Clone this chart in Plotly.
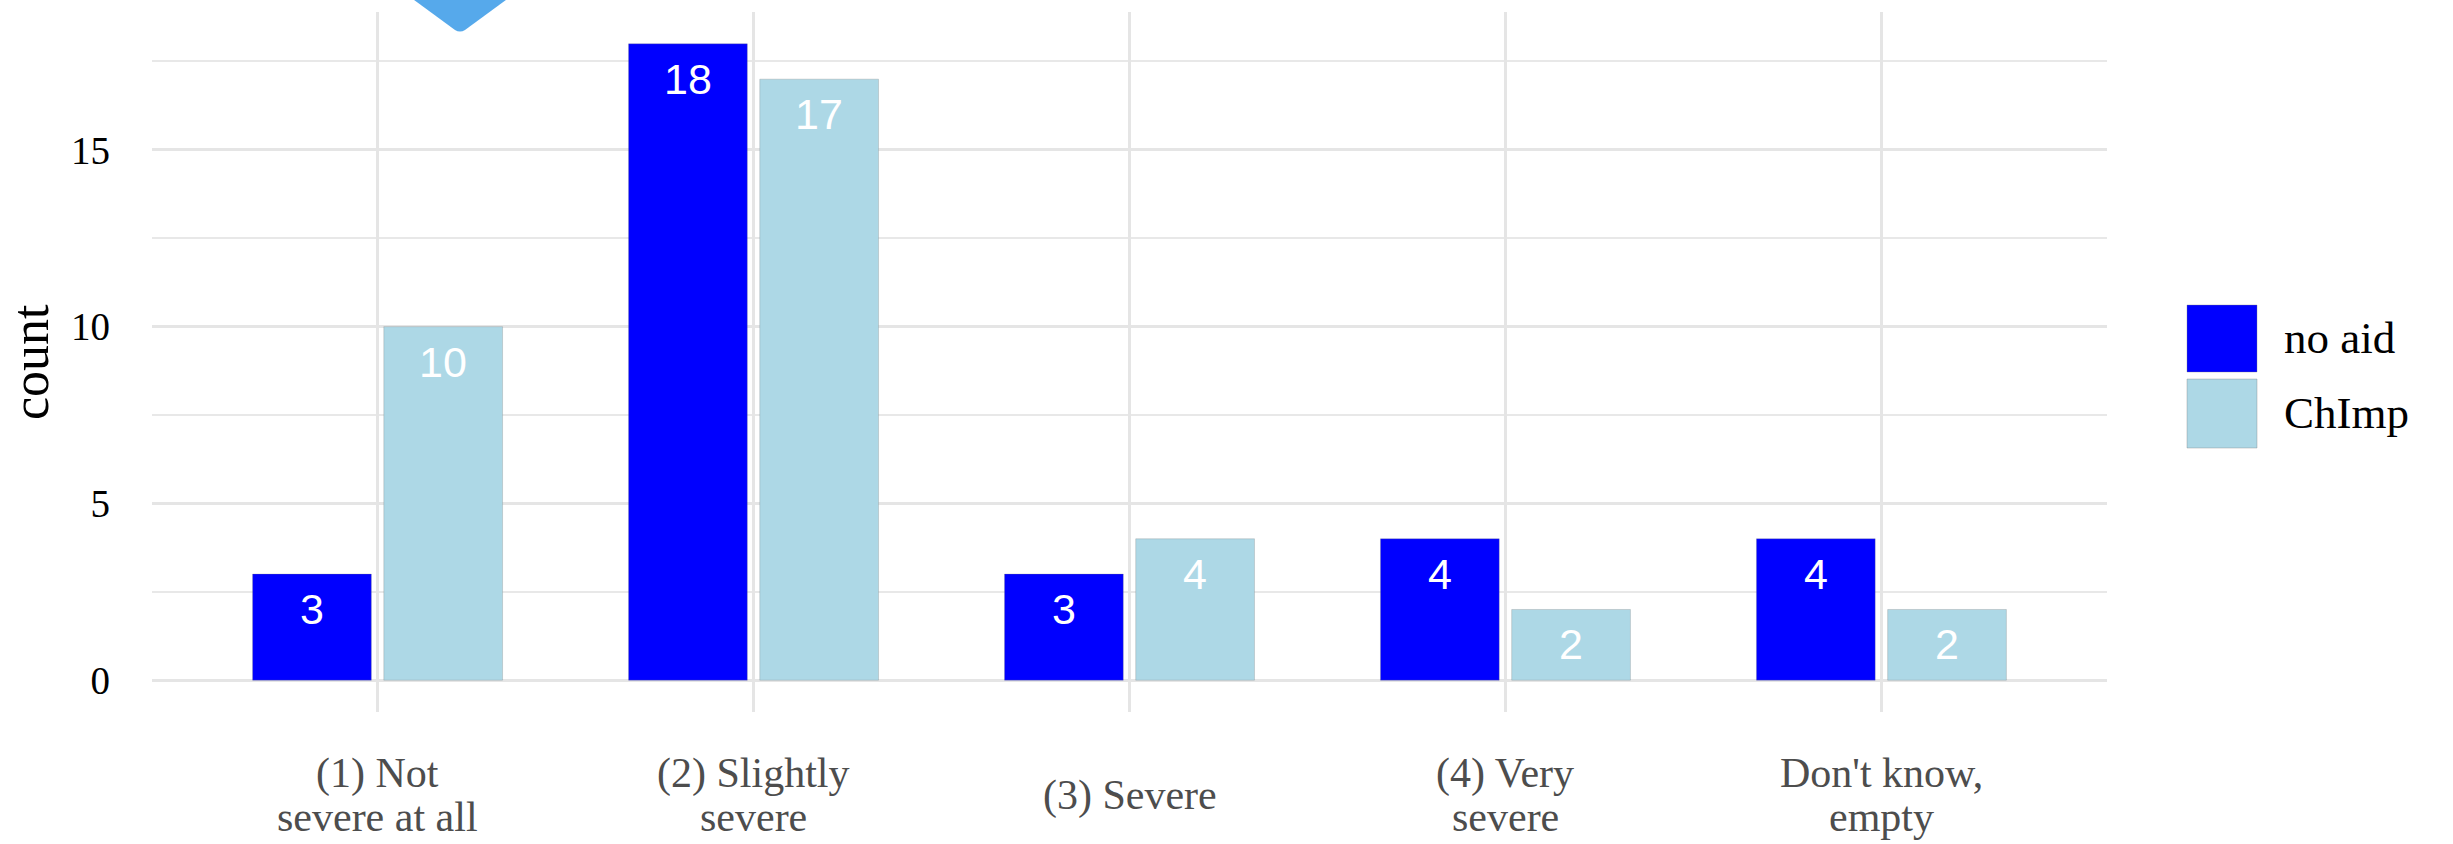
import plotly.graph_objects as go

# ---- data ----
categories = ["(1) Not<br>severe at all", "(2) Slightly<br>severe", "(3) Severe",
              "(4) Very<br>severe", "Don't know,<br>empty"]
series_names = ["no aid", "ChImp"]
no_aid = [3, 18, 3, 4, 4]
chimp = [10, 17, 4, 2, 2]
y_ticks = [0, 5, 10, 15]

# ---- layout geometry ----
W, H = 2453, 844
ML, MR, MT, MB = 152, 346, 12, 132
PW, PH = W - ML - MR, H - MT - MB
colors = ["#0000FF", "#ADD8E6"]
serif = "Liberation Serif"
sans = "Liberation Sans"

def px(x):
    return (x - ML) / PW

def py(y):
    return (H - MB - y) / PH

fig = go.Figure()
cat_ids = list(range(len(categories)))
for name, vals, col in zip(series_names, [no_aid, chimp], colors):
    fig.add_trace(go.Bar(x=cat_ids, y=vals, name=name, marker_color=col,
                         marker_line_width=0.8, marker_line_color="rgba(120,120,120,0.35)",
                         showlegend=False, hoverinfo="x+y"))

# bar value labels
bargap, groupgap = 0.302, 0.095
slot = (1 - bargap) / 2
unit_px = PW / 5.2
annotations = []
for si, vals in enumerate([no_aid, chimp]):
    shift = (-1 if si == 0 else 1) * slot / 2 * unit_px
    for i, v in enumerate(vals):
        annotations.append(dict(x=i, y=v, xref="x", yref="y", text=str(v), showarrow=False,
                                xshift=shift, yshift=-35, yanchor="middle",
                                font=dict(family=sans, size=43, color="white")))

# x category labels (one annotation per line for tight line spacing)
line_gap = 44
for i, c in enumerate(categories):
    lines = c.split("<br>")
    n = len(lines)
    for k, ln in enumerate(lines):
        cy = 795 + (k - (n - 1) / 2) * line_gap
        annotations.append(dict(x=i, y=py(cy), xref="x", yref="paper", text=ln, showarrow=False,
                                yanchor="middle", xanchor="center",
                                font=dict(family=serif, size=42, color="#4D4D4D")))

# y axis title
annotations.append(dict(x=px(30), y=py(362), xref="paper", yref="paper", text="count",
                        showarrow=False, textangle=-90, xanchor="center", yanchor="middle",
                        font=dict(family=serif, size=52, color="black")))

# legend (drawn manually)
shapes = []
sw = [(305, 372), (379, 448)]
text_y = [338, 413]
for name, col, (y0, y1), ty in zip(series_names, colors, sw, text_y):
    shapes.append(dict(type="rect", xref="paper", yref="paper",
                       x0=px(2187), x1=px(2257), y0=py(y1), y1=py(y0),
                       fillcolor=col, line=dict(color="rgba(120,120,120,0.35)", width=1)))
    annotations.append(dict(x=px(2282), y=py(ty), xref="paper", yref="paper", text=name,
                            showarrow=False, xanchor="left", yanchor="middle",
                            font=dict(family=serif, size=45, color="black")))

# partially visible marker at top
pts = [(380, -25), (455, 30), (460, 33), (465, 30), (540, -25)]
path = "M {} {} L {} {} Q {} {} {} {} L {} {} Z".format(
    px(pts[0][0]), py(pts[0][1]), px(pts[1][0]), py(pts[1][1]),
    px(pts[2][0]), py(pts[2][1]), px(pts[3][0]), py(pts[3][1]),
    px(pts[4][0]), py(pts[4][1]))
shapes.append(dict(type="path", xref="paper", yref="paper", path=path,
                   fillcolor="#56A9EB", line=dict(width=0)))

fig.update_layout(
    width=W, height=H,
    margin=dict(l=ML, r=MR, t=MT, b=MB),
    paper_bgcolor="white", plot_bgcolor="white",
    barmode="group", bargap=bargap, bargroupgap=groupgap,
    annotations=annotations, shapes=shapes,
    xaxis=dict(range=[-0.6, 4.6], tickmode="array", tickvals=cat_ids, showticklabels=False,
               showgrid=True, gridcolor="#E5E5E5", gridwidth=3, zeroline=False, ticks=""),
    yaxis=dict(range=[-0.9, 18.9], tickmode="array", tickvals=y_ticks,
               ticktext=[str(t) for t in y_ticks],
               showgrid=True, gridcolor="#E5E5E5", gridwidth=3, zeroline=False, ticks="",
               ticklabelstandoff=41,
               tickfont=dict(family=serif, size=39, color="black"),
               minor=dict(tickmode="array", tickvals=[2.5, 7.5, 12.5, 17.5], showgrid=True,
                          gridcolor="#E8E8E8", gridwidth=1.5)),
    showlegend=False,
)

fig.write_html("out.html")
